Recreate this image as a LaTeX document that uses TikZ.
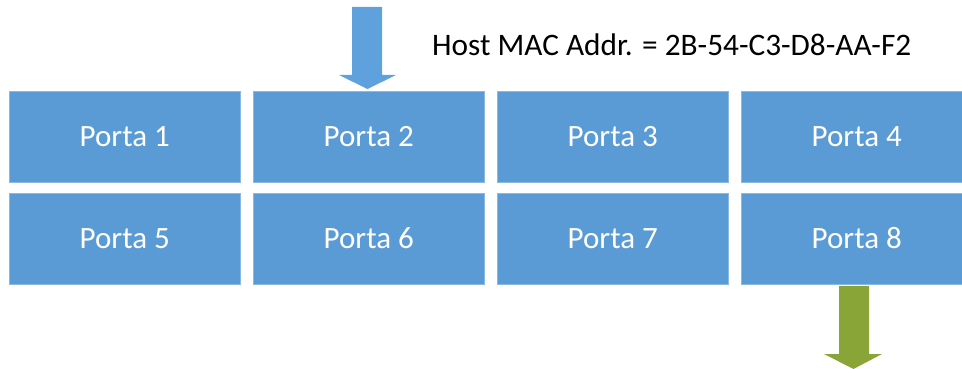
\documentclass[tikz,border=0pt]{standalone}
\usepackage{fontspec}
\setmainfont{Carlito}
\definecolor{portblue}{RGB}{91,155,213}
\definecolor{portedge}{RGB}{140,185,228}
\definecolor{inarrow}{RGB}{95,161,221}
\definecolor{outarrow}{RGB}{138,165,55}
\tikzset{
  portbox/.style={fill=portblue, draw=portedge, line width=0.6pt,
    minimum width=231pt, minimum height=91pt, inner sep=0pt,
    text height=20pt, text depth=0pt,
    text=white, font=\fontsize{31}{36}\selectfont, anchor=north west},
}
\begin{document}
\begin{tikzpicture}[x=1pt,y=-1pt]
  \useasboundingbox (0,0) rectangle (962,369);
  \begin{scope}
    \clip (0,0) rectangle (962,369);
    % first row of ports
    \node[portbox] (p1) at (9,91)   {Porta 1};
    \node[portbox] (p2) at (253,91) {Porta 2};
    \node[portbox] (p3) at (497,91) {Porta 3};
    \node[portbox] (p4) at (741,91) {Porta 4};
    % second row of ports
    \node[portbox] (p5) at (9,193)   {Porta 5};
    \node[portbox] (p6) at (253,193) {Porta 6};
    \node[portbox] (p7) at (497,193) {Porta 7};
    \node[portbox] (p8) at (741,193) {Porta 8};
    % incoming frame on port 2
    \fill[inarrow] (352,7) -- (382,7) -- (382,75) -- (396,75) -- (367.5,89)
      -- (339,75) -- (352,75) -- cycle;
    % outgoing frame on port 8
    \fill[outarrow] (839,286) -- (869,286) -- (869,354) -- (882,354) -- (853.5,369)
      -- (824,354) -- (839,354) -- cycle;
  \end{scope}
  \node[anchor=base west, inner sep=0pt, font=\fontsize{31.3}{36}\selectfont] (mac)
    at (432,56) {Host MAC Addr. = 2B-54-C3-D8-AA-F2};
\end{tikzpicture}
\end{document}
